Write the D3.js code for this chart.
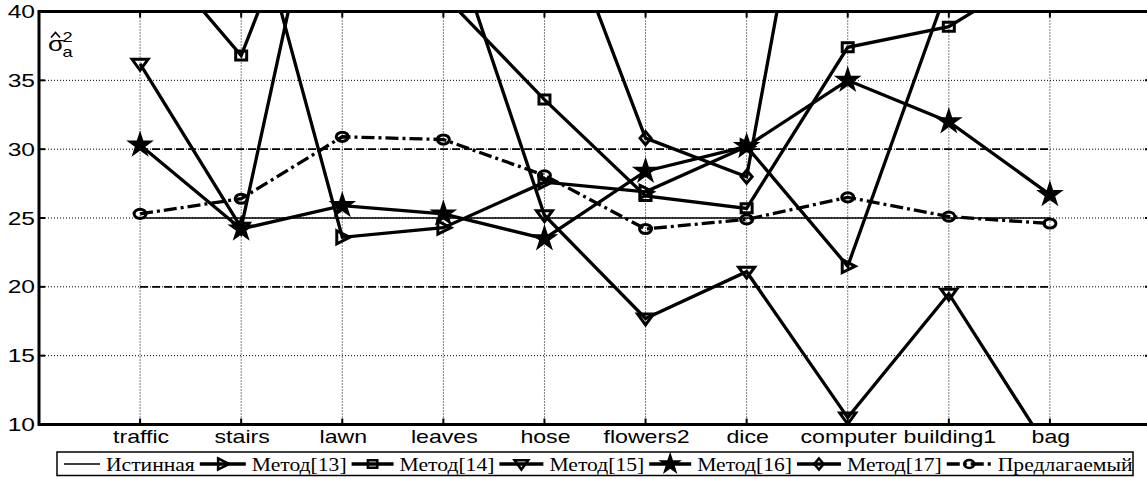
<!DOCTYPE html>
<html><head><meta charset="utf-8">
<script src="https://cdn.jsdelivr.net/npm/d3@7"></script>
<style>body{margin:0;background:#fff} svg{display:block}</style>
</head><body><svg id="c" width="1147" height="479"></svg>
<script>
// ---------- data ----------
const categories = ["traffic","stairs","lawn","leaves","hose","flowers2","dice","computer","building1","bag"];
const trueValue  = [25,25,25,25,25,25,25,25,25,25];
const upperBound = [30,30,30,30,30,30,30,30,30,30];
const lowerBound = [20,20,20,20,20,20,20,20,20,20];
const method13 = [48.0, 50.7, 23.6, 24.3, 27.6, 26.9, 30.2, 21.5, 42.0, 45.0];
const method14 = [45.4, 36.8, 55.6, 41.2, 33.6, 26.6, 25.7, 37.4, 38.9, 43.4];
const method15 = [36.2, 24.3, 58.0, 47.1, 25.2, 17.7, 21.1, 10.5, 19.5, 8.0];
const method16 = [30.3, 24.2, 25.9, 25.3, 23.5, 28.4, 30.2, 35.0, 32.0, 26.7];
const method17 = [55.0, 60.0, 58.0, 52.0, 50.1, 30.8, 28.0, 68.0, 60.0, 55.0];
const proposed = [25.3, 26.4, 30.9, 30.7, 28.1, 24.2, 24.9, 26.5, 25.1, 24.6];
const yTicks = [10,15,20,25,30,35,40];
const legendLabels = ["Истинная","Метод[13]","Метод[14]","Метод[15]","Метод[16]","Метод[17]","Предлагаемый"];

// ---------- setup ----------
const svg = d3.select("#c");
const L = 39, R = 1151, T = 11.5, B = 424.5;
const x = d3.scaleLinear().domain([0, 11]).range([L, R]);
const y = d3.scaleLinear().domain([10, 40]).range([B, T]);
const SX = 1.33;      // horizontal stretch of y tick text
const SXC = 1.25;     // horizontal stretch of category text
const SXL = 1.2;      // horizontal stretch of legend text

svg.append("defs").append("clipPath").attr("id","clip")
  .append("rect").attr("x",L).attr("y",T-1).attr("width",R-L).attr("height",B-T+2);

// grid
const grid = svg.append("g").attr("stroke","#000").attr("stroke-width",1).attr("stroke-dasharray","1,2");
grid.selectAll(".gx").data(categories).join("line")
  .attr("x1",(d,i)=>x(i+1)).attr("x2",(d,i)=>x(i+1)).attr("y1",T).attr("y2",B);
grid.selectAll(".gy").data(yTicks.slice(1,-1)).join("line")
  .attr("x1",L).attr("x2",R).attr("y1",d=>y(d)).attr("y2",d=>y(d));

const plot = svg.append("g").attr("clip-path","url(#clip)");
const line = d3.line().x((d,i)=>x(i+1)).y(d=>y(d));

// true value and bounds
plot.append("path").datum(trueValue).attr("d",line).attr("fill","none").attr("stroke","#000").attr("stroke-width",1.7);
[upperBound, lowerBound].forEach(s=>{
  plot.append("path").datum(s).attr("d",line).attr("fill","none").attr("stroke","#000")
    .attr("stroke-width",1.7).attr("stroke-dasharray","8,4");
});

// marker shapes
const shapes = {
  triRight: "M-5.5,-6.5L7.5,0L-5.5,6.5Z",
  square: "M-5.5,-4.5L5.5,-4.5L5.5,4.5L-5.5,4.5Z",
  triDown: "M-8,-4.5L8,-4.5L0,6.5Z",
  star: d3.symbol(d3.symbolStar, 105)(),
  diamond: "M0,-6.5L5.5,0L0,6.5L-5.5,0Z",
  circle: "M-6,0A6,4.6 0 1,0 6,0A6,4.6 0 1,0 -6,0Z"
};
const series = [
  {v: method13, shape: "triRight", dash: null},
  {v: method14, shape: "square", dash: null},
  {v: method15, shape: "triDown", dash: null},
  {v: method16, shape: "star", dash: null, fill: "#000"},
  {v: method17, shape: "diamond", dash: null},
  {v: proposed, shape: "circle", dash: "13,4,3,4"}
];
series.forEach(s=>{
  plot.append("path").datum(s.v).attr("d",line).attr("fill","none").attr("stroke","#000")
    .attr("stroke-width",3.3).attr("stroke-linejoin","miter").attr("stroke-dasharray",s.dash);
});
series.forEach(s=>{
  plot.selectAll(null).data(s.v.map((v,i)=>[i,v]).filter(d=>d[1]>=9.5 && d[1]<=40.5)).join("path")
    .attr("transform",d=>`translate(${x(d[0]+1)},${y(d[1])})`)
    .attr("d",shapes[s.shape]).attr("fill",s.fill||"none").attr("stroke","#000").attr("stroke-width",3);
});

// frame
svg.append("rect").attr("x",L).attr("y",T).attr("width",R-L).attr("height",B-T)
  .attr("fill","none").attr("stroke","#000").attr("stroke-width",3);

// ticks
const tk = svg.append("g").attr("stroke","#000").attr("stroke-width",2);
categories.forEach((c,i)=>{
  tk.append("line").attr("x1",x(i+1)).attr("x2",x(i+1)).attr("y1",B).attr("y2",B-6);
  tk.append("line").attr("x1",x(i+1)).attr("x2",x(i+1)).attr("y1",T).attr("y2",T+6);
});
yTicks.forEach(v=>{
  tk.append("line").attr("x1",L).attr("x2",L+6).attr("y1",y(v)).attr("y2",y(v));
  tk.append("line").attr("x1",R).attr("x2",R-6).attr("y1",y(v)).attr("y2",y(v));
});

// tick labels
const sans = "Arial, 'Liberation Sans', Helvetica, sans-serif";
svg.append("g").selectAll("text").data(categories).join("text")
  .attr("transform",(d,i)=>`translate(${x(i+1)+1},${443}) scale(${SXC},1)`)
  .attr("text-anchor","middle").attr("font-family",sans).attr("font-size",18.5).text(d=>d);
svg.append("g").selectAll("text").data(yTicks).join("text")
  .attr("transform",d=>`translate(${35},${y(d)+6.5}) scale(${SX},1)`)
  .attr("text-anchor","end").attr("font-family",sans).attr("font-size",18.5).text(d=>d);

// y label  σ̂²_a
const yl = svg.append("g").attr("font-family",sans);
yl.append("text").attr("transform","translate(48,51) scale(1.3,1)").attr("font-size",20).text("σ");
yl.append("path").attr("d","M51,37.5L55.5,32.5L60,37.5").attr("fill","none").attr("stroke","#000").attr("stroke-width",1.6);
yl.append("text").attr("transform","translate(62.5,42) scale(1.3,1)").attr("font-size",14).text("2");
yl.append("text").attr("transform","translate(62.5,57) scale(1.3,1)").attr("font-size",14).text("a");

// legend
const serif = "'Liberation Serif', 'Times New Roman', Times, serif";
const lg = svg.append("g");
lg.append("rect").attr("x",57).attr("y",452).attr("width",1076).attr("height",23.5)
  .attr("fill","#fff").attr("stroke","#000").attr("stroke-width",1.5);
const legItems = [
  {shape:null, w:36, sw:1.7},
  {shape:"triRight", w:46, sw:3.3},
  {shape:"square", w:42, sw:3.3},
  {shape:"triDown", w:44, sw:3.3},
  {shape:"star", w:42, sw:3.3, fill:"#000"},
  {shape:"diamond", w:44, sw:3.3},
  {shape:"circle", w:45, sw:3.3, dash:"13,4,3,4"}
];
let cx = 64;
const ly = 464;
legendLabels.forEach((lab,i)=>{
  const it = legItems[i];
  lg.append("line").attr("x1",cx).attr("x2",cx+it.w).attr("y1",ly).attr("y2",ly)
    .attr("stroke","#000").attr("stroke-width",it.sw).attr("stroke-dasharray",it.dash||null);
  if (it.shape) {
    lg.append("path").attr("transform",`translate(${cx+it.w/2},${ly}) scale(0.85)`)
      .attr("d",shapes[it.shape]).attr("fill",it.fill||"none").attr("stroke","#000").attr("stroke-width",3);
  }
  cx += it.w + 6;
  const t = lg.append("text").attr("transform",`translate(${cx},${470.5}) scale(${SXL},1)`)
    .attr("font-family",serif).attr("font-size",18).text(lab);
  cx += t.node().getComputedTextLength()*SXL + 5;
});
</script></body></html>
